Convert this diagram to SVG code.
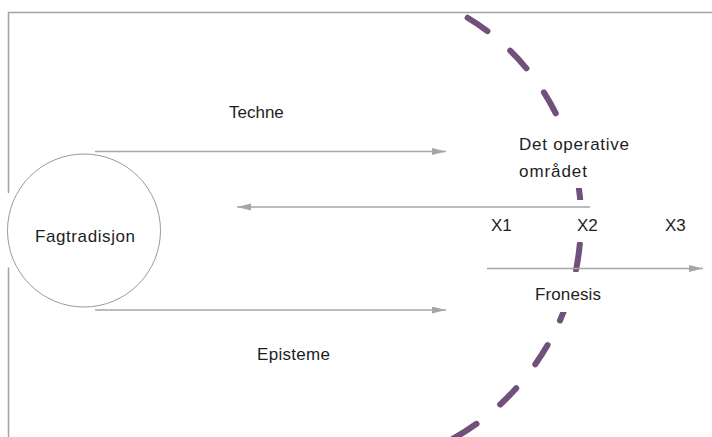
<svg xmlns="http://www.w3.org/2000/svg" width="712" height="437" viewBox="0 0 712 437">
  <style>
    .frame { fill: none; stroke: #a3a3a3; stroke-width: 1.5; }
    .conn { fill: none; stroke: #a6a6a6; stroke-width: 1.5; }
    .arc { fill: none; stroke: #71517c; stroke-width: 6; stroke-linecap: round; }
    .node { fill: #ffffff; stroke: #9a9a9a; stroke-width: 1; }
    .mask { fill: #ffffff; stroke: none; }
    text { font-family: "Liberation Sans", Arial, sans-serif; font-size: 17px; fill: #1e1e1e; }
  </style>
  <defs>
    <marker id="ah" markerUnits="userSpaceOnUse" markerWidth="15" markerHeight="8" refX="14" refY="3.5" orient="auto">
      <path d="M0,0 L14,3.5 L0,7 Z" fill="#a6a6a6"/>
    </marker>
  </defs>

  <rect width="712" height="437" fill="#ffffff"/>

  <g id="frame">
    <path class="frame" d="M8.5,437 V267.5 M8.5,193 V12.5 H712"/>
  </g>

  <g id="boundary-arc">
    <path class="arc" d="
      M467.6,17.7 A231,235 0 0 1 487.4,31.1
      M510.2,50.7 A231,235 0 0 1 526.4,68.3
      M543.9,92.3 A231,235 0 0 1 555.8,113.3
      M567.6,141.2 A231,235 0 0 1 574.4,164.4
      M578.5,185.3 A231,235 0 0 1 580.8,209.3
      M579.8,244.1 A251,251 0 0 1 576.0,270.0
      M569.1,296.3 A251,251 0 0 1 560.0,320.5
      M547.6,345.1 A251,251 0 0 1 535.3,364.3
      M516.2,388.3 A251,251 0 0 1 500.2,404.5
      M476.5,423.8 A251,251 0 0 1 447.8,441.6"/>
  </g>

  <g id="label-backgrounds">
    <rect class="mask" x="510" y="124" width="130" height="64"/>
    <rect class="mask" x="480" y="200" width="220" height="42"/>
    <rect class="mask" x="525" y="272" width="90" height="40"/>
  </g>

  <g id="connectors">
    <line class="conn" x1="95" y1="151.5" x2="446" y2="151.5" marker-end="url(#ah)"/>
    <line class="conn" x1="590" y1="207" x2="237" y2="207" marker-end="url(#ah)"/>
    <line class="conn" x1="95" y1="310" x2="446" y2="310" marker-end="url(#ah)"/>
    <line class="conn" x1="487" y1="268.5" x2="703" y2="268.5" marker-end="url(#ah)"/>
  </g>

  <g id="node-fagtradisjon">
    <circle class="node" cx="84" cy="230.5" r="76.5"/>
    <text x="35" y="242" textLength="100" lengthAdjust="spacing">Fagtradisjon</text>
  </g>

  <g id="label-techne">
    <text x="229" y="118">Techne</text>
  </g>

  <g id="label-episteme">
    <text x="257" y="360" textLength="73" lengthAdjust="spacing">Episteme</text>
  </g>

  <g id="label-operative">
    <text x="519" y="150" textLength="110" lengthAdjust="spacing">Det operative</text>
    <text x="519" y="177" textLength="68" lengthAdjust="spacing">området</text>
  </g>

  <g id="label-x1"><text x="491" y="231">X1</text></g>
  <g id="label-x2"><text x="577" y="231">X2</text></g>
  <g id="label-x3"><text x="665" y="231">X3</text></g>

  <g id="label-fronesis">
    <text x="535" y="300" textLength="66" lengthAdjust="spacing">Fronesis</text>
  </g>
</svg>
